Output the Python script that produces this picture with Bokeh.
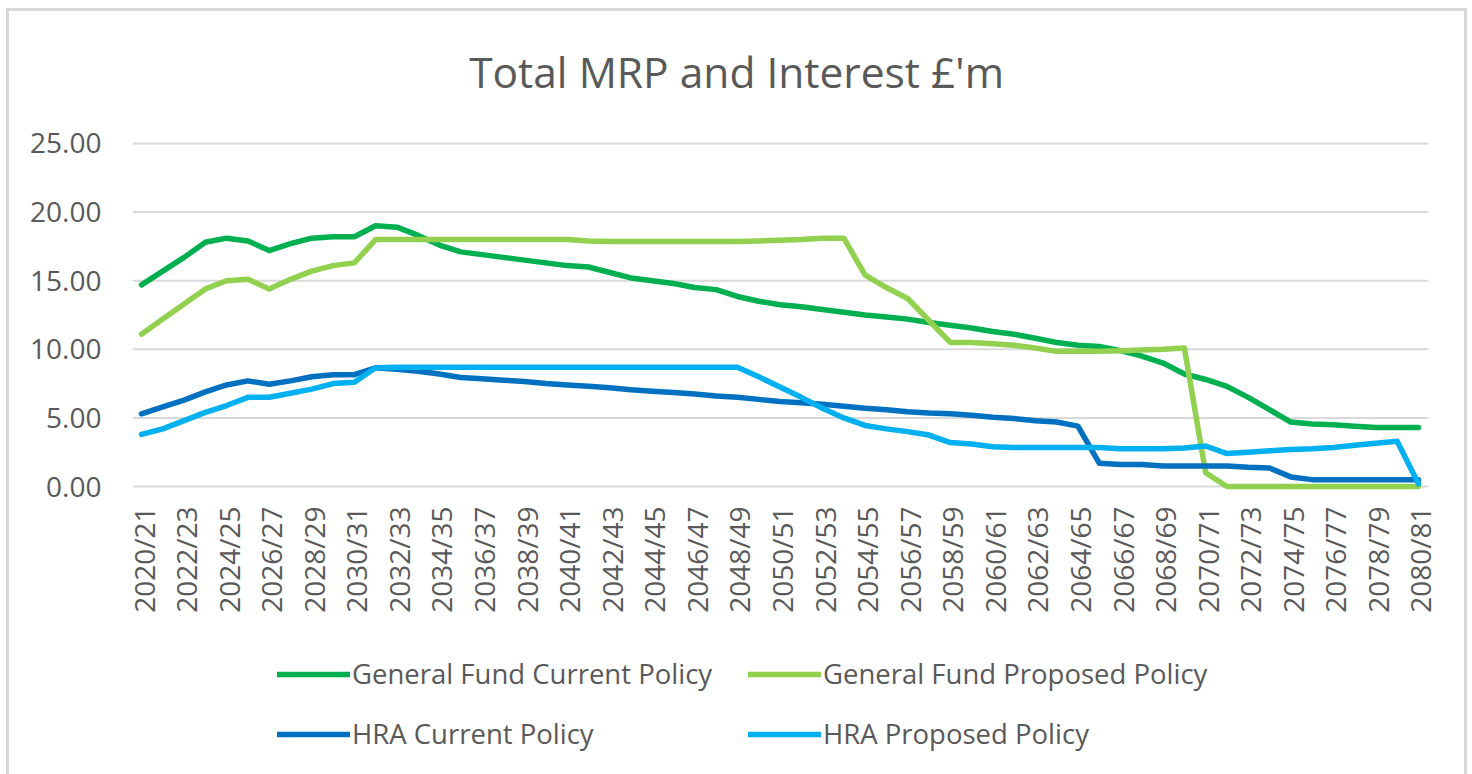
from math import pi
from bokeh.plotting import figure
from bokeh.models import (ColumnDataSource, FixedTicker, NumeralTickFormatter,
                          Legend, LegendItem, Range1d)
from bokeh.core.properties import value
from bokeh.embed import file_html
from bokeh.resources import INLINE

years = ["2020/21", "2021/22", "2022/23", "2023/24", "2024/25", "2025/26", "2026/27",
         "2027/28", "2028/29", "2029/30", "2030/31", "2031/32", "2032/33", "2033/34",
         "2034/35", "2035/36", "2036/37", "2037/38", "2038/39", "2039/40", "2040/41",
         "2041/42", "2042/43", "2043/44", "2044/45", "2045/46", "2046/47", "2047/48",
         "2048/49", "2049/50", "2050/51", "2051/52", "2052/53", "2053/54", "2054/55",
         "2055/56", "2056/57", "2057/58", "2058/59", "2059/60", "2060/61", "2061/62",
         "2062/63", "2063/64", "2064/65", "2065/66", "2066/67", "2067/68", "2068/69",
         "2069/70", "2070/71", "2071/72", "2072/73", "2073/74", "2074/75", "2075/76",
         "2076/77", "2077/78", "2078/79", "2079/80", "2080/81"]

gf_current = [14.7, 15.7, 16.7, 17.8, 18.1, 17.9, 17.2, 17.7, 18.1, 18.2,
              18.2, 19.0, 18.9, 18.3, 17.6, 17.1, 16.9, 16.7, 16.5, 16.3,
              16.1, 16.0, 15.6, 15.2, 15.0, 14.8, 14.5, 14.35, 13.85, 13.5,
              13.25, 13.1, 12.9, 12.7, 12.5, 12.35, 12.2, 11.95, 11.75, 11.55,
              11.3, 11.1, 10.8, 10.5, 10.3, 10.2, 9.9, 9.5, 9.0, 8.2,
              7.8, 7.3, 6.5, 5.6, 4.7, 4.55, 4.5, 4.4, 4.3, 4.3, 4.3]

gf_proposed = [11.1, 12.2, 13.3, 14.4, 15.0, 15.1, 14.4, 15.1, 15.7, 16.1,
               16.3, 18.0, 18.0, 18.0, 18.0, 18.0, 18.0, 18.0, 18.0, 18.0,
               18.0, 17.9, 17.85, 17.85, 17.85, 17.85, 17.85, 17.85, 17.85, 17.9,
               17.95, 18.0, 18.1, 18.1, 15.4, 14.5, 13.7, 12.1, 10.5, 10.5,
               10.4, 10.3, 10.1, 9.85, 9.85, 9.85, 9.9, 9.95, 10.0, 10.1,
               1.0, 0.0, 0.0, 0.0, 0.0, 0.0, 0.0, 0.0, 0.0, 0.0, 0.0]

hra_current = [5.3, 5.8, 6.3, 6.9, 7.4, 7.7, 7.45, 7.7, 8.0, 8.15,
               8.15, 8.65, 8.55, 8.4, 8.2, 7.95, 7.85, 7.75, 7.65, 7.5,
               7.4, 7.3, 7.2, 7.05, 6.95, 6.85, 6.75, 6.6, 6.5, 6.35,
               6.2, 6.1, 6.0, 5.85, 5.7, 5.6, 5.45, 5.35, 5.3, 5.2,
               5.05, 4.95, 4.8, 4.7, 4.4, 1.7, 1.6, 1.6, 1.5, 1.5,
               1.5, 1.5, 1.4, 1.35, 0.7, 0.5, 0.5, 0.5, 0.5, 0.5, 0.5]

hra_proposed = [3.8, 4.2, 4.8, 5.4, 5.9, 6.5, 6.5, 6.8, 7.1, 7.5,
                7.6, 8.65, 8.7, 8.7, 8.7, 8.7, 8.7, 8.7, 8.7, 8.7,
                8.7, 8.7, 8.7, 8.7, 8.7, 8.7, 8.7, 8.7, 8.7, 8.0,
                7.25, 6.5, 5.7, 5.0, 4.45, 4.2, 4.0, 3.75, 3.2, 3.1,
                2.9, 2.85, 2.85, 2.85, 2.85, 2.85, 2.75, 2.75, 2.75, 2.8,
                2.95, 2.4, 2.5, 2.6, 2.7, 2.75, 2.85, 3.0, 3.15, 3.3, 0.2]

series_names = ["General Fund Current Policy", "General Fund Proposed Policy",
                "HRA Current Policy", "HRA Proposed Policy"]
series_colors = ["#00B050", "#92D050", "#0070C0", "#00B0F0"]
y_ticks = [0, 5, 10, 15, 20, 25]
title_text = "Total MRP and Interest £'m"

FONT = "Open Sans"
TXT = "#595959"
X_START, X_END = -0.423, 61.27        # view range
Y_START, Y_END = -21.5, 34.62
GRID_START, GRID_END = -0.423, 60.47  # extent of the plot-area gridlines
TITLE_X, TITLE_Y = 27.96, 30.25       # title anchor (centre of chart area)

src = ColumnDataSource(dict(x=list(range(len(years))), gfc=gf_current, gfp=gf_proposed,
                            hrc=hra_current, hrp=hra_proposed))
tick_idx = list(range(0, len(years), 2))
tick_src = ColumnDataSource(dict(x=tick_idx, y=[0] * len(tick_idx),
                                 label=[years[i] for i in tick_idx]))
grid_src = ColumnDataSource(dict(x0=[GRID_START] * len(y_ticks), x1=[GRID_END] * len(y_ticks),
                                 y=y_ticks))

p = figure(width=1461, height=770, output_backend="svg", toolbar_location=None,
           x_range=Range1d(X_START, X_END), y_range=Range1d(Y_START, Y_END),
           min_border_left=123, min_border_right=25, min_border_top=0,
           min_border_bottom=0, outline_line_color=None,
           background_fill_color="white", border_fill_color="white")
p.margin = (8, 0, 0, 6)
p.styles = {"border-left": "3px solid #D9D9D9", "border-top": "3px solid #D9D9D9",
            "border-right": "3px solid #D9D9D9"}

# chart title
p.text(x=[TITLE_X], y=[TITLE_Y], text=[title_text], text_align="center",
       text_baseline="middle", text_font=value(FONT), text_font_size=value("42.5px"),
       text_color=TXT)

# horizontal gridlines at the value ticks
p.segment(x0="x0", y0="y", x1="x1", y1="y", source=grid_src,
          line_color="#D9D9D9", line_width=2)

renderers = []
for col, color in zip(["gfc", "gfp", "hrc", "hrp"], series_colors):
    r = p.line("x", col, source=src, line_color=color, line_width=5.5,
               line_cap="round", line_join="round")
    renderers.append(r)

# category labels along the bottom (vertical text, as in the reference)
p.text(x="x", y="y", text="label", source=tick_src, angle=pi / 2,
       text_align="right", text_baseline="middle", y_offset=20, x_offset=2,
       text_font=value(FONT), text_font_size=value("28px"), text_color=TXT)

p.xaxis.visible = False
p.xgrid.visible = False
p.ygrid.visible = False

p.yaxis.ticker = FixedTicker(ticks=y_ticks)
p.yaxis.formatter = NumeralTickFormatter(format="0.00")
p.yaxis.axis_line_color = None
p.yaxis.major_tick_line_color = None
p.yaxis.minor_tick_line_color = None
p.yaxis.major_label_text_font = FONT
p.yaxis.major_label_text_font_size = "28px"
p.yaxis.major_label_text_color = TXT
p.yaxis.major_label_standoff = 25

common = dict(orientation="vertical", glyph_width=73, glyph_height=26, label_height=26,
              label_standoff=2, spacing=23, padding=0, margin=0, border_line_color=None,
              background_fill_alpha=0, label_text_font=FONT,
              label_text_font_size="27.5px", label_text_color=TXT)
leg1 = Legend(items=[LegendItem(label=series_names[i], renderers=[renderers[i]]) for i in (0, 2)],
              location=(145, 29), **common)
leg2 = Legend(items=[LegendItem(label=series_names[i], renderers=[renderers[i]]) for i in (1, 3)],
              location=(616, 29), **common)
p.add_layout(leg1)
p.add_layout(leg2)

open("out.html", "w").write(file_html(p, INLINE))
